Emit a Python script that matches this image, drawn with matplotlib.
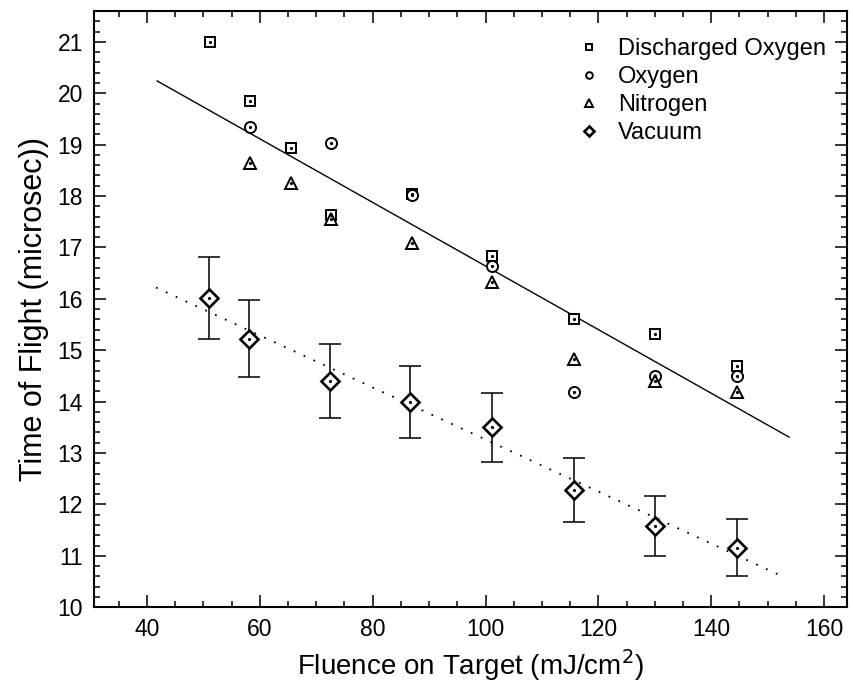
import numpy as np
import matplotlib.pyplot as plt
from matplotlib.ticker import MultipleLocator

plt.rcParams['font.family'] = ['Liberation Sans', 'DejaVu Sans']

#------------------------------------------------------------------------------#

dox_x = [51.2, 58.3, 65.5, 72.7, 86.9, 101.2, 115.7, 130.1, 144.5]
dox_y = [21.0, 19.84, 18.94, 17.64, 18.04, 16.83, 15.61, 15.32, 14.70]

ox_x = [58.3, 72.7, 86.9, 101.2, 115.7, 130.1, 144.5]
ox_y = [19.34, 19.03, 18.02, 16.64, 14.18, 14.50, 14.49]

n2_x = [58.2, 65.5, 72.7, 86.9, 101.2, 115.7, 130.1, 144.5]
n2_y = [18.64, 18.25, 17.55, 17.08, 16.33, 14.83, 14.41, 14.18]

vac_x = [51.0, 58.1, 72.5, 86.7, 101.1, 115.6, 130.0, 144.5]
vac_y = [16.02, 15.22, 14.40, 14.00, 13.50, 12.28, 11.58, 11.16]
vac_err = [0.80, 0.75, 0.72, 0.70, 0.67, 0.63, 0.58, 0.56]

# fitted lines (end points)
fit_gas_x = [41.8, 153.8]
fit_gas_y = [20.24, 13.31]
fit_vac_x = [41.6, 153.0]
fit_vac_y = [16.22, 10.58]

#------------------------------------------------------------------------------#

fig = plt.figure(figsize = (8.54, 6.90), dpi = 100)
ax = fig.add_axes([0.110, 0.120, 0.882, 0.864])

mk = dict(linestyle = 'none', markerfacecolor = 'white', markeredgecolor = 'black',
    markeredgewidth = 1.4)

ax.plot(fit_gas_x, fit_gas_y, color = 'black', lw = 1.0)
ax.plot(fit_vac_x, fit_vac_y, color = 'black', lw = 1.3, linestyle = (0, (1, 5)))

ax.errorbar(vac_x, vac_y, yerr = vac_err, fmt = 'none', ecolor = 'black',
    elinewidth = 1.1, capsize = 8, capthick = 1.1)

ax.plot(dox_x, dox_y, marker = 's', markersize = 7, label = 'Discharged Oxygen', **mk)
ax.plot(ox_x, ox_y, marker = 'o', markersize = 8, label = 'Oxygen', **mk)
ax.plot(n2_x, n2_y, marker = '^', markersize = 9, label = 'Nitrogen', **mk)
ax.plot(vac_x, vac_y, marker = 'D', markersize = 9, markeredgewidth = 1.9,
    linestyle = 'none', markerfacecolor = 'white', markeredgecolor = 'black',
    label = 'Vacuum')

# centre dots in each marker
for xs, ys in [(dox_x, dox_y), (ox_x, ox_y), (n2_x, n2_y), (vac_x, vac_y)]:
    ax.plot(xs, ys, linestyle = 'none', marker = 'o', markersize = 1.3,
        color = 'black')

ax.legend(loc = 'upper right', frameon = False, fontsize = 17, markerscale = 0.6,
    handlelength = 1.2, handletextpad = 0.6, labelspacing = 0.26,
    bbox_to_anchor = (0.984, 0.971), borderaxespad = 0)

ax.set_xlim(30.6, 164.1)
ax.set_ylim(10, 21.6)
ax.xaxis.set_major_locator(MultipleLocator(20))
ax.xaxis.set_minor_locator(MultipleLocator(5))
ax.yaxis.set_major_locator(MultipleLocator(1))
ax.yaxis.set_minor_locator(MultipleLocator(0.2))

ax.tick_params(which = 'both', direction = 'in', top = True, right = True,
    width = 1.1, labelsize = 16.5)
ax.tick_params(which = 'major', length = 8.5)
ax.tick_params(which = 'minor', length = 4)
ax.tick_params(axis = 'x', pad = 8)
ax.tick_params(axis = 'y', pad = 8)
for s in ax.spines.values():
    s.set_linewidth(1.5)

ax.set_xlabel('Fluence on Target (mJ/cm$^2$)', fontsize = 20, labelpad = 4)
ax.set_ylabel('Time of Flight (microsec))', fontsize = 22, labelpad = 6)

plt.savefig('out.png', dpi = 100)
